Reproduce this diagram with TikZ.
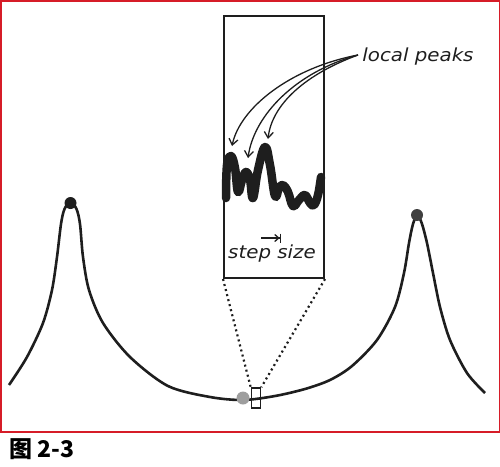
\documentclass[tikz,border=0pt]{standalone}
\usepackage{fontspec}
\usetikzlibrary{arrows.meta}
\newfontfamily\handfont{DejaVu Sans}
\newfontfamily\capfont{Noto Sans CJK SC}
\definecolor{frame}{RGB}{214,28,40}
\definecolor{ink}{RGB}{30,30,30}
\begin{document}
\begin{tikzpicture}[x=1pt,y=-1pt,
  hand/.style={font=\handfont\itshape\fontsize{18}{18}\selectfont, text=ink, inner sep=0pt, xscale=1.1},
  dotbig/.style={circle, fill=#1, inner sep=0pt, minimum size=12pt},
  peakarrow/.style={draw=ink, line width=1.3pt, -{Straight Barb[length=6pt,width=9pt]}},
  zoomline/.style={draw=ink, line width=2.2pt, dash pattern=on 2pt off 3.2pt}
]
\useasboundingbox (0,0) rectangle (500,466);
\draw[frame, line width=1.5pt] (0.75,0.75) rectangle (499.25,432);

% zoom box
\node[draw=ink, line width=2pt, minimum width=100pt, minimum height=262pt, inner sep=0pt, anchor=north west] (box) at (223,15) {};
% small window on curve
\node[draw=ink, line width=1.6pt, minimum width=9pt, minimum height=20pt, inner sep=0pt] (win) at (256,398) {};

% main curve
\draw[ink, line width=2.6pt, line join=round] plot[smooth, tension=0.5] coordinates {
 (9,385) (27,357) (43,323) (52,290) (57,257) (61,224) (64.5,209) (70.5,202) (76.5,209) (80,224)
 (83,257) (89,290) (103,323) (130,357) (168,386) (210,397) (243,400) (275,396)
 (305,389) (330,380) (352,366) (377,340) (395,307) (404,273) (409,243) (413,224) (417.5,215)
 (422,224) (427,243) (433,273) (440,307) (450,340) (467,373) (485,393)};

% dots
\node[dotbig=ink] (lpk) at (70.5,203) {};
\node[dotbig={black!75}] (rpk) at (417,215) {};
\node[dotbig={black!38}, minimum size=13pt] (cur) at (243,398) {};

% dotted zoom lines
\draw[zoomline] (box.south west) -- (win.north west);
\draw[zoomline] (box.south east) -- (win.north east);

% wiggle
\draw[ink, line width=8.5pt, line cap=round, line join=round] plot[smooth, tension=0.7] coordinates {
 (226,198) (227,165) (231,156) (235,168) (238,192) (242,180) (246,172) (250,180) (253,198)
 (258,170) (265,147) (270,165) (275,196) (279,188) (283,185) (288,192) (293,206)
 (299,200) (305,195) (310,203) (314,205) (318,195) (321,177)};

% labels
\node[hand] (peaks) at (418,57) {local peaks};
\node[hand] (step) at (272,254) {step size};

\coordinate (t1) at (232,146);
\coordinate (t2) at (248,158);
\coordinate (t3) at (268,139);
\coordinate (src) at (358,55);
\draw[peakarrow] (src) .. controls (290,68) and (240,108) .. (t1);
\draw[peakarrow] (src) .. controls (296,72) and (254,115) .. (t2);
\draw[peakarrow] (src) .. controls (306,74) and (272,104) .. (t3);

\coordinate (sa) at (261,238);
\coordinate (sb) at (281,238);
\draw[ink, line width=1.3pt, -{Straight Barb[length=4pt,width=7pt] Bar[width=9pt]}] (sa) -- (sb);

% caption
\node[anchor=west, inner sep=0pt] (cap) at (9,449) {\capfont\bfseries\fontsize{23}{23}\selectfont 图 2-3};
\end{tikzpicture}
\end{document}
